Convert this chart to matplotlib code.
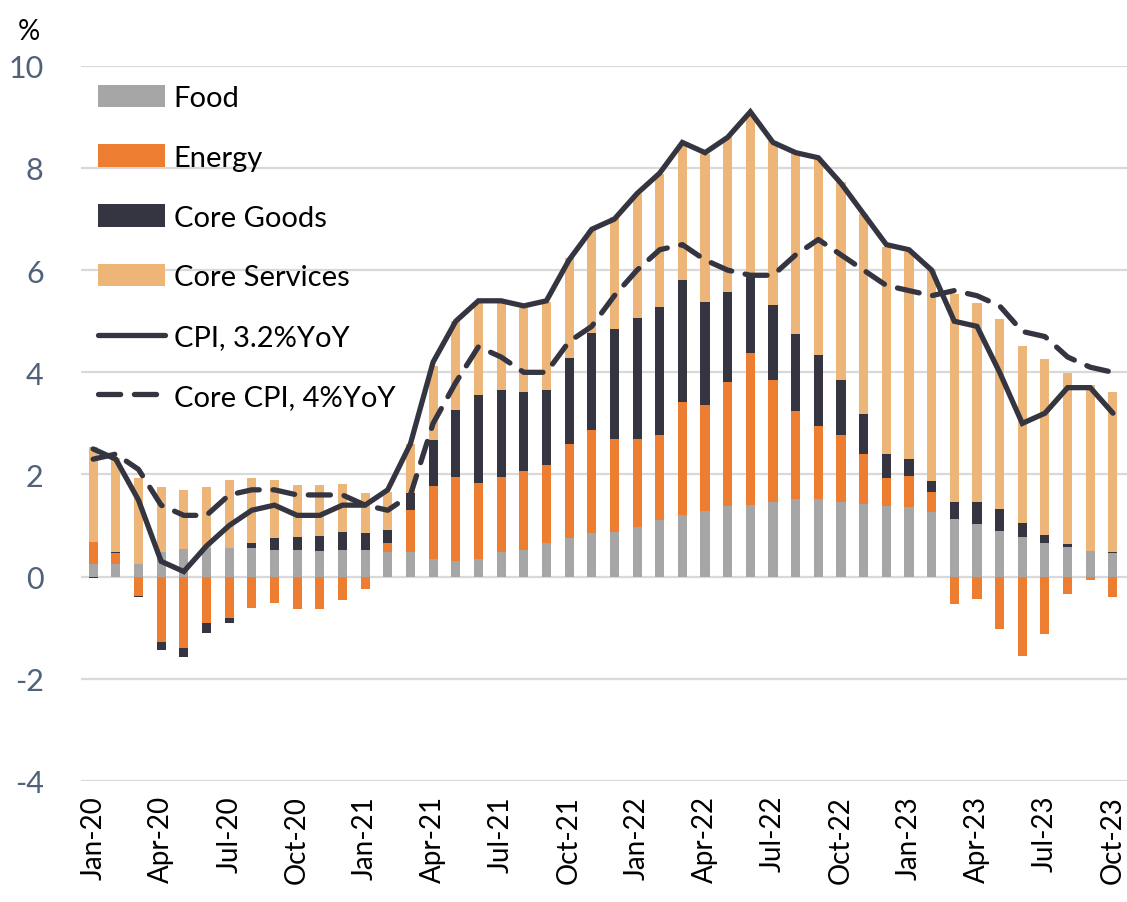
import matplotlib
matplotlib.use("Agg")
import matplotlib.pyplot as plt
import numpy as np

plt.rcParams['font.family'] = ['Lato', 'DejaVu Sans']

months = ["Jan-20", "Feb-20", "Mar-20", "Apr-20", "May-20", "Jun-20", "Jul-20", "Aug-20",
          "Sep-20", "Oct-20", "Nov-20", "Dec-20", "Jan-21", "Feb-21", "Mar-21", "Apr-21",
          "May-21", "Jun-21", "Jul-21", "Aug-21", "Sep-21", "Oct-21", "Nov-21", "Dec-21",
          "Jan-22", "Feb-22", "Mar-22", "Apr-22", "May-22", "Jun-22", "Jul-22", "Aug-22",
          "Sep-22", "Oct-22", "Nov-22", "Dec-22", "Jan-23", "Feb-23", "Mar-23", "Apr-23",
          "May-23", "Jun-23", "Jul-23", "Aug-23", "Sep-23", "Oct-23"]

# contributions to YoY CPI, percentage points
food = [0.25, 0.25, 0.25, 0.48, 0.54, 0.56, 0.56, 0.56,
        0.53, 0.53, 0.50, 0.53, 0.52, 0.49, 0.48, 0.34,
        0.30, 0.34, 0.49, 0.52, 0.65, 0.75, 0.86, 0.88,
        0.98, 1.10, 1.21, 1.29, 1.38, 1.41, 1.47, 1.53,
        1.52, 1.47, 1.42, 1.39, 1.36, 1.27, 1.13, 1.03,
        0.90, 0.77, 0.66, 0.58, 0.51, 0.46]
energy = [0.43, 0.22, -0.37, -1.27, -1.39, -0.90, -0.81, -0.62,
          -0.52, -0.63, -0.64, -0.45, -0.24, 0.16, 0.82, 1.44,
          1.65, 1.49, 1.47, 1.55, 1.54, 1.84, 2.01, 1.82,
          1.72, 1.68, 2.21, 2.08, 2.43, 2.96, 2.37, 1.72,
          1.43, 1.30, 0.98, 0.54, 0.62, 0.38, -0.53, -0.43,
          -1.02, -1.56, -1.12, -0.33, -0.07, -0.39]
core_goods = [-0.03, 0.02, -0.03, -0.16, -0.19, -0.21, -0.09, 0.10,
              0.22, 0.25, 0.29, 0.34, 0.33, 0.26, 0.33, 0.89,
              1.32, 1.73, 1.70, 1.55, 1.47, 1.70, 1.90, 2.15,
              2.37, 2.50, 2.38, 2.00, 1.76, 1.51, 1.48, 1.50,
              1.39, 1.08, 0.78, 0.47, 0.32, 0.22, 0.34, 0.43,
              0.43, 0.28, 0.16, 0.06, 0.00, 0.02]
core_services = [1.85, 1.83, 1.69, 1.28, 1.16, 1.20, 1.34, 1.28,
                 1.14, 1.02, 1.01, 0.94, 0.78, 0.75, 0.97, 1.46,
                 1.73, 1.79, 1.69, 1.63, 1.72, 1.94, 2.02, 2.20,
                 2.42, 2.61, 2.67, 2.90, 3.03, 3.14, 3.21, 3.55,
                 3.81, 3.88, 3.91, 4.06, 4.06, 4.16, 4.06, 3.90,
                 3.72, 3.46, 3.45, 3.34, 3.25, 3.14]

cpi = [2.5, 2.3, 1.5, 0.3, 0.1, 0.6, 1.0, 1.3, 1.4, 1.2, 1.2, 1.4,
       1.4, 1.7, 2.6, 4.2, 5.0, 5.4, 5.4, 5.3, 5.4, 6.2, 6.8, 7.0,
       7.5, 7.9, 8.5, 8.3, 8.6, 9.1, 8.5, 8.3, 8.2, 7.7, 7.1, 6.5,
       6.4, 6.0, 5.0, 4.9, 4.0, 3.0, 3.2, 3.7, 3.7, 3.2]
core_cpi = [2.3, 2.4, 2.1, 1.4, 1.2, 1.2, 1.6, 1.7, 1.7, 1.6, 1.6, 1.6,
            1.4, 1.3, 1.6, 3.0, 3.8, 4.5, 4.3, 4.0, 4.0, 4.6, 4.9, 5.5,
            6.0, 6.4, 6.5, 6.2, 6.0, 5.9, 5.9, 6.3, 6.6, 6.3, 6.0, 5.7,
            5.6, 5.5, 5.6, 5.5, 5.3, 4.8, 4.7, 4.3, 4.1, 4.0]

series = [("Food", food, "#a6a6a6"),
          ("Energy", energy, "#ed7d31"),
          ("Core Goods", core_goods, "#343541"),
          ("Core Services", core_services, "#edb678")]
line_col = "#343541"

fig = plt.figure(figsize=(11.27, 9.03), dpi=100)
ax = fig.add_axes([0.072, 0.134, 0.928, 0.792])

x = np.arange(len(months))
pos_bot = np.zeros(len(x))
neg_bot = np.zeros(len(x))
for name, vals, col in series:
    v = np.array(vals)
    bottom = np.where(v >= 0, pos_bot, neg_bot)
    ax.bar(x, v, 0.4, bottom=bottom, color=col, label=name, zorder=2)
    pos_bot += np.where(v >= 0, v, 0)
    neg_bot += np.where(v < 0, v, 0)

ax.plot(x, cpi, color=line_col, lw=3.8, label="CPI, 3.2%YoY", zorder=3,
        solid_capstyle="round", solid_joinstyle="miter")
ax.plot(x, core_cpi, color=line_col, lw=3.8, ls=(0, (4.2, 2.6)), label="Core CPI, 4%YoY",
        zorder=3, dash_capstyle="round")

ax.set_ylim(-4, 10)
ax.set_xlim(-0.53, 45.62)
ax.set_yticks(np.arange(-4, 11, 2))
ax.set_yticklabels([str(t) for t in range(-4, 11, 2)])
ax.grid(axis="y", color="#d9d9d9", lw=1.6, zorder=0)
ax.set_axisbelow(True)
for s in ax.spines.values():
    s.set_visible(False)
ax.tick_params(axis="y", length=0, pad=27, labelsize=22, labelcolor="#50617a")
ax.set_xticks(x[::3])
ax.set_xticklabels(months[::3], rotation=90)
ax.tick_params(axis="x", length=0, pad=10, labelsize=20, labelcolor="black")

fig.text(0.016, 0.965, "%", fontsize=20, ha="left", va="center")

handles, labels = ax.get_legend_handles_labels()
order = [2, 3, 4, 5, 0, 1]
leg = ax.legend([handles[i] for i in order], [labels[i] for i in order],
                loc="upper left", bbox_to_anchor=(0.005, 0.99), frameon=False,
                fontsize=21, handlelength=2.3, handleheight=0.8, labelspacing=1.15,
                handletextpad=0.3, borderaxespad=0.0)

fig.savefig("out.png", dpi=100)
